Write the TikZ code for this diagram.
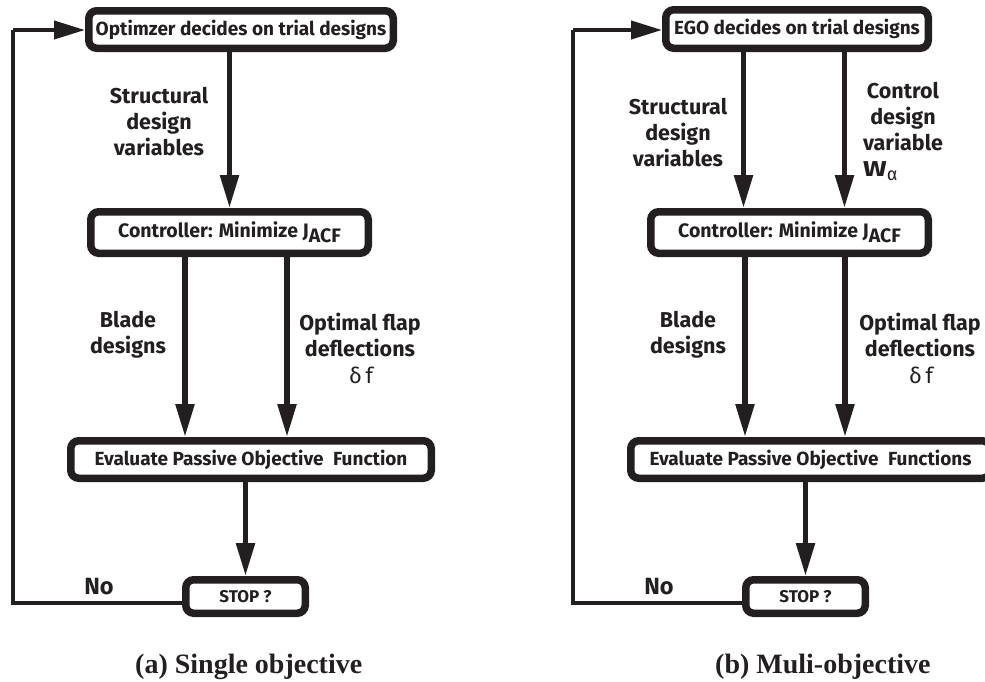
\documentclass[tikz,border=0pt]{standalone}
\usepackage{fontspec}
\setmainfont{Fira Sans}
\newfontfamily\capfont{Liberation Serif}
\usetikzlibrary{arrows.meta,calc}
\definecolor{ink}{RGB}{35,31,32}
\begin{document}
\begin{tikzpicture}[x=1pt,y=-1pt,
  every node/.style={text=ink},
  box/.style={draw=ink, line width=7.5pt, rounded corners=8pt, fill=white, inner sep=0pt,
    font=\bfseries\fontsize{19}{22}\selectfont},
  ctlfont/.style={font=\bfseries\fontsize{19.5}{22}\selectfont},
  arr/.style={draw=ink, line width=5.5pt, -{Triangle[length=33pt,width=18pt]}},
  fb/.style={draw=ink, line width=4pt},
  fbarr/.style={fb, -{Triangle[length=31pt,width=18pt]}},
  lab/.style={align=center, inner sep=0pt, font=\bfseries\fontsize{21.5}{26}\selectfont},
  greek/.style={inner sep=0pt, font=\fontsize{22}{24}\selectfont},
  capt/.style={inner sep=0pt, anchor=base west, font=\capfont\bfseries\fontsize{28}{30}\selectfont}]
\useasboundingbox (0,0) rectangle (985,681);

% ---------- (a) single objective ----------
\node[box, minimum width=304.5pt, minimum height=37.5pt] (opt) at (241,29.5) {Optimzer decides on trial designs};
\node[box, ctlfont, minimum width=277.5pt, minimum height=41.5pt] (ctl) at (229.5,232.5) {Controller: Minimize J\raisebox{-5pt}{ACF}};
\node[box, minimum width=360.5pt, minimum height=37.5pt] (eva) at (251,459.5) {Evaluate Passive Objective\hspace{0.5em}Function};
\node[box, minimum width=119.5pt, minimum height=33.5pt, font=\bfseries\fontsize{17}{19}\selectfont] (stop) at (245.5,596.5) {STOP ?};

\draw[arr] (opt.south -| ctl.north) -- (ctl.north);
\draw[arr] ([xshift=-44.5pt]ctl.south) -- ([xshift=-44.5pt]ctl.south |- eva.north);
\draw[arr] ([xshift=57.5pt]ctl.south) -- ([xshift=57.5pt]ctl.south |- eva.north);
\draw[arr] (eva.south -| stop.north) -- (stop.north);
\coordinate (fbA) at (13,30);
\draw[fb] ([yshift=-6.5pt]stop.west) -| (fbA);
\draw[fbarr] (fbA) -- (opt.west |- fbA);

\node[lab] (sdvA) at (159,122) {Structural\\design\\variables};
\node[lab] (bdA) at (128,335) {Blade\\designs};
\node[lab] (ofA) at (360,335) {Optimal flap\\deflections};
\node[greek] (dfA) at (361,375) {δ\,f};
\node[lab, font=\bfseries\fontsize{23.5}{26}\selectfont] (noA) at (99,587) {No};
\node[capt] (capA) at (135,673) {(a) Single objective};

% ---------- (b) multi-objective ----------
\node[box, minimum width=262.5pt, minimum height=38.5pt] (ego) at (797,29) {EGO decides on trial designs};
\node[box, ctlfont, minimum width=277.5pt, minimum height=41.5pt] (ctlB) at (789.5,232.5) {Controller: Minimize J\raisebox{-5pt}{ACF}};
\node[box, minimum width=359.5pt, minimum height=37.5pt] (evaB) at (810.5,459.5) {Evaluate Passive Objective\hspace{0.5em}Functions};
\node[box, minimum width=119.5pt, minimum height=33.5pt, font=\bfseries\fontsize{17}{19}\selectfont] (stopB) at (805.5,596.5) {STOP ?};

\draw[arr] ([xshift=-46pt]ctlB.north |- ego.south) -- ([xshift=-46pt]ctlB.north);
\draw[arr] ([xshift=55pt]ctlB.north |- ego.south) -- ([xshift=55pt]ctlB.north);
\draw[arr] ([xshift=-44.5pt]ctlB.south) -- ([xshift=-44.5pt]ctlB.south |- evaB.north);
\draw[arr] ([xshift=55.5pt]ctlB.south) -- ([xshift=55.5pt]ctlB.south |- evaB.north);
\draw[arr] (evaB.south -| stopB.north) -- (stopB.north);
\coordinate (fbB) at (573,30);
\draw[fb] ([yshift=-6.5pt]stopB.west) -| (fbB);
\draw[fbarr] (fbB) -- (ego.west |- fbB);

\node[lab] (sdvB) at (678,133) {Structural\\design\\variables};
\node[lab] (cdvB) at (903,117) {Control\\design\\variable};
\node[inner sep=0pt, anchor=west, font=\bfseries\fontsize{21.5}{24}\selectfont] (wB) at (863,171) {\scalebox{1.3}[1]{W}\raisebox{-4pt}{\mdseries\fontsize{18}{19}\selectfont α}};
\node[lab] (bdB) at (688,335) {Blade\\designs};
\node[lab] (ofB) at (920,335) {Optimal flap\\deflections};
\node[greek] (dfB) at (921,375) {δ\,f};
\node[lab, font=\bfseries\fontsize{23.5}{26}\selectfont] (noB) at (659,587) {No};
\node[capt] (capB) at (715,673) {(b) Muli-objective};
\end{tikzpicture}
\end{document}
